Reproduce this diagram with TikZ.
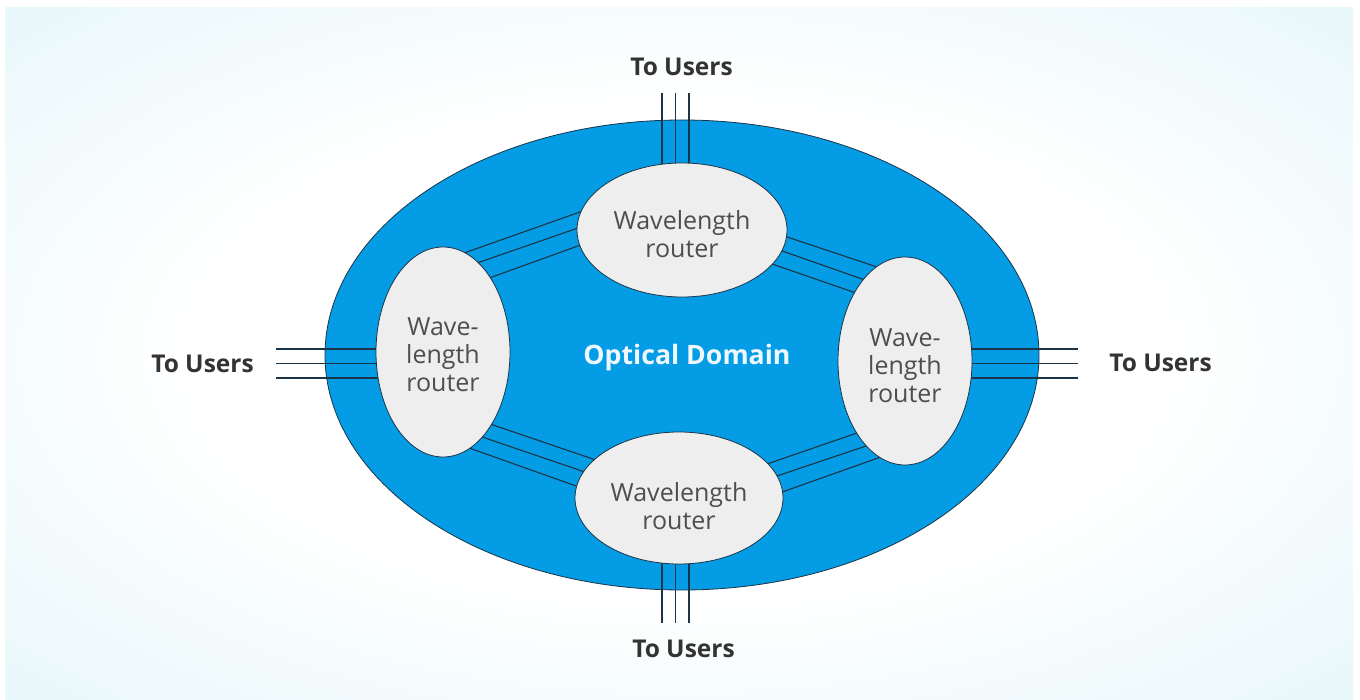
\documentclass[tikz,border=0pt]{standalone}
\usepackage{fontspec}
\setmainfont{Open Sans}
\usetikzlibrary{calc,shapes.geometric}

\definecolor{domainblue}{RGB}{4,157,229}
\definecolor{routerfill}{RGB}{238,238,238}
\definecolor{edgeline}{RGB}{28,52,72}
\definecolor{labelgray}{RGB}{51,51,51}
\definecolor{routertext}{RGB}{78,78,78}
\definecolor{panelcyan}{RGB}{219,243,248}
\definecolor{domaintext}{RGB}{240,248,255}

\pgfdeclareradialshading{panelglow}{\pgfpoint{0bp}{0bp}}{%
  color(0bp)=(white); color(18bp)=(white); color(46bp)=(panelcyan); color(75bp)=(panelcyan)}

\pgfdeclarelayer{back}
\pgfdeclarelayer{fibres}
\pgfsetlayers{back,fibres,main}

\begin{document}
\begin{tikzpicture}[x=1pt,y=-1pt,
  router/.style={ellipse, draw=edgeline, line width=0.8pt, fill=routerfill,
    inner sep=0pt},
  routertag/.style={text=routertext, align=center, inner sep=0pt,
    font=\fontsize{25}{28}\selectfont},
  users/.style={font=\bfseries\fontsize{24.5}{28}\selectfont, text=labelgray},
  fibre/.style={draw=edgeline, line width=1.1pt}]

\useasboundingbox (0,0) rectangle (1360,700);

% backdrop and the optical domain
\begin{pgfonlayer}{back}
  \fill[white] (0,0) rectangle (1360,700);
  \shade[shading=panelglow] (5,8) rectangle (1353,700);
  \node[ellipse, draw=edgeline, line width=0.8pt, fill=domainblue,
    minimum width=714pt, minimum height=470pt, inner sep=0pt] (domain) at (682,355) {};
\end{pgfonlayer}

% wavelength routers
\node[router, minimum width=210pt, minimum height=134pt] (T) at (682,230) {};
\node[router, minimum width=208pt, minimum height=132pt] (B) at (679,498) {};
\node[router, minimum width=134pt, minimum height=210pt] (L) at (443,352) {};
\node[router, minimum width=134pt, minimum height=208pt] (R) at (905,361) {};

\node[routertag] (Tt) at ($(T)+(0,4.5)$) {Wavelength\\router};
\node[routertag] (Bt) at ($(B)+(0,8.5)$) {Wavelength\\router};
\node[routertag] (Lt) at ($(L)+(0,2.5)$) {Wave-\\length\\router};
\node[routertag] (Rt) at ($(R)+(0,4.5)$) {Wave-\\length\\router};

\node[font=\bfseries\fontsize{26.7}{30}\selectfont, text=domaintext] (od) at (687,358) {Optical Domain};

% user side labels and free ends of the access fibres
\node[users] (tl) at (681.5,67) {To Users};
\node[users] (bl) at (683.5,649) {To Users};
\node[users] (ll) at (202.5,364) {To Users};
\node[users] (rl) at (1160.5,363) {To Users};
\coordinate (tu) at (675.5,93);
\coordinate (bu) at (675.5,623);
\coordinate (lu) at (276,363.5);
\coordinate (ru) at (1078,363.5);

\begin{pgfonlayer}{fibres}
  % access fibres
  \foreach \d in {-13.5,0,13.5} {
    \draw[fibre] ($(tu)+(\d,0)$) -- ($(tu|-T.center)+(\d,0)$);
    \draw[fibre] ($(bu)+(\d,0)$) -- ($(bu|-B.center)+(\d,0)$);
  }
  \foreach \d in {-14.5,0,14.5} {
    \draw[fibre] ($(lu)+(0,\d)$) -- ($(lu-|L.center)+(0,\d)$);
    \draw[fibre] ($(ru)+(0,\d)$) -- ($(ru-|R.center)+(0,\d)$);
  }
  % links between routers
  \draw[fibre] ($(L)+(12.7,-96.0)$) -- ($(T)+(-90.7,-22.0)$);
  \draw[fibre] ($(L)+(25.7,-86.1)$) -- ($(T)+(-92.7,-5.9)$);
  \draw[fibre] ($(L)+(37.7,-70.9)$) -- ($(T)+(-92.7,11.9)$);

  \draw[fibre] ($(T)+(93.6,3.2)$) -- ($(R)+(-16.6,-90.2)$);
  \draw[fibre] ($(T)+(91.7,18.0)$) -- ($(R)+(-28.7,-77.0)$);
  \draw[fibre] ($(T)+(81.7,31.1)$) -- ($(R)+(-40.7,-65.1)$);

  \draw[fibre] ($(L)+(38.6,69.1)$) -- ($(B)+(-74.6,-35.1)$);
  \draw[fibre] ($(L)+(30.6,82.1)$) -- ($(B)+(-85.6,-23.1)$);
  \draw[fibre] ($(L)+(17.7,93.0)$) -- ($(B)+(-91.7,-8.0)$);

  \draw[fibre] ($(B)+(79.6,-31.1)$) -- ($(R)+(-36.6,68.1)$);
  \draw[fibre] ($(B)+(89.6,-19.2)$) -- ($(R)+(-30.6,82.2)$);
  \draw[fibre] ($(B)+(94.7,-3.0)$) -- ($(R)+(-15.7,93.0)$);
\end{pgfonlayer}
\end{tikzpicture}
\end{document}
